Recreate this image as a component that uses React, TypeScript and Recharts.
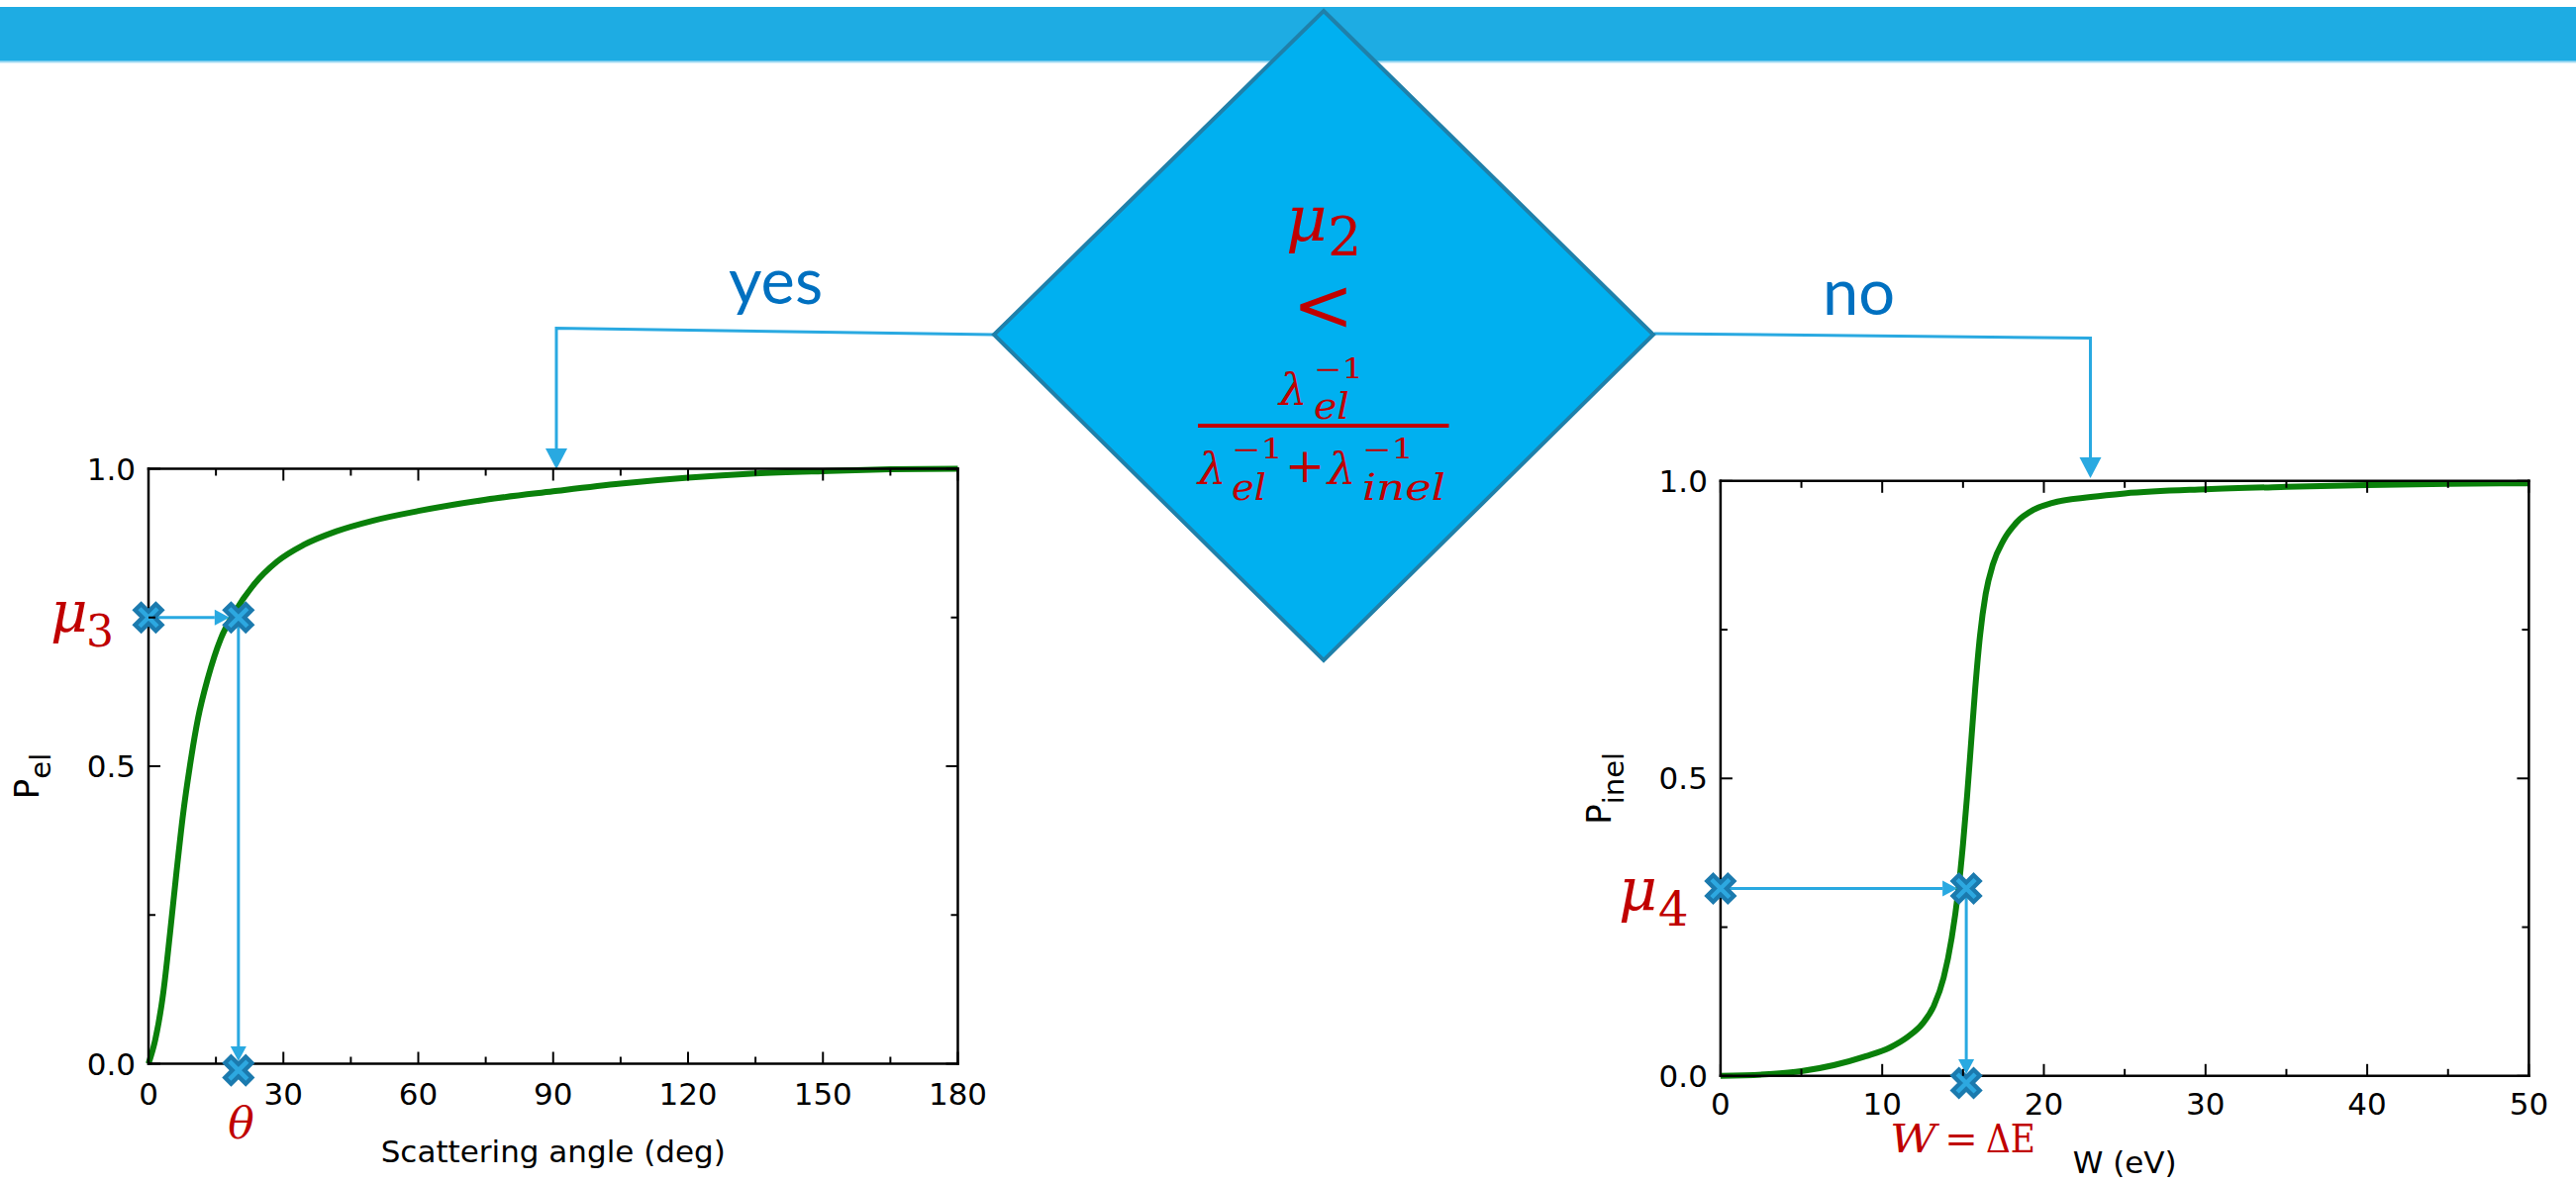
import React from 'react';
import { LineChart, Line, XAxis, YAxis, ReferenceLine, ReferenceDot, Label } from 'recharts';

// ---------------- data ----------------
const elAngleDeg = [0, 1.5, 3.3, 4.8, 6.2, 7.7, 9.2, 11, 13.2, 16.1, 19.1, 23.5, 28.6, 34.5, 41.8, 50, 60, 75, 90, 105, 120, 135, 150, 165, 180];
const elProbability = [0, 0.04, 0.12, 0.22, 0.32, 0.42, 0.5, 0.58, 0.648, 0.715, 0.758, 0.806, 0.844, 0.872, 0.895, 0.913, 0.929, 0.948, 0.962, 0.975, 0.985, 0.992, 0.996, 0.999, 1.0];

const inelLossEV = [0, 3, 5, 7, 9, 10.5, 11.6, 12.5, 13.2, 13.8, 14.3, 14.7, 15, 15.25, 15.5, 15.75, 16.05, 16.4, 16.85, 17.5, 18.3, 19.4, 20.5, 22.9, 25, 30, 35, 40, 45, 50];
const inelProbability = [0, 0.003, 0.008, 0.018, 0.033, 0.048, 0.066, 0.088, 0.118, 0.165, 0.232, 0.31, 0.39, 0.47, 0.56, 0.65, 0.74, 0.81, 0.86, 0.9, 0.93, 0.952, 0.963, 0.973, 0.979, 0.986, 0.99, 0.993, 0.995, 0.996];

const elXTicks = [0, 15, 30, 45, 60, 75, 90, 105, 120, 135, 150, 165, 180];
const elXMajor = [0, 30, 60, 90, 120, 150, 180];
const inelXTicks = [0, 5, 10, 15, 20, 25, 30, 35, 40, 45, 50];
const inelXMajor = [0, 10, 20, 30, 40, 50];
const yTicks = [0, 0.25, 0.5, 0.75, 1];
const yMajor = [0, 0.5, 1];

// sampled points (markers)
const mu3 = 0.75;
const thetaSample = 20;
const elBelowAxis = -0.011;
const mu4 = 0.315;
const wSample = 15.2;
const inelBelowAxis = -0.012;

const elData = elAngleDeg.map((t, i) => ({ x: t, p: elProbability[i] }));
const inelData = inelLossEV.map((w, i) => ({ x: w, p: inelProbability[i] }));

// ---------------- styles ----------------
const AXIS_FONT = '"DejaVu Sans", sans-serif';
const MATH_FONT = '"DejaVu Serif", serif';
const RED = '#C00000';
const ARROW = '#29A9E1';
const GREEN = '#0A800A';
const axisLineStyle = { stroke: '#000', strokeWidth: 2.5, strokeLinecap: 'square' };
const TICK_FS = 31;

const bottomTick = (majors: number[], labelDy: number) => (props: any) => {
  const { x, y, payload } = props;
  const v = payload.value;
  const isMajor = majors.includes(v);
  const len = isMajor ? 12 : 7;
  return (
    <g>
      <line x1={x} y1={y} x2={x} y2={y - len} stroke="#000" strokeWidth={2} />
      {isMajor && (
        <text x={x} y={y + labelDy} textAnchor="middle" fontFamily={AXIS_FONT} fontSize={TICK_FS} fill="#000">
          {String(v)}
        </text>
      )}
    </g>
  );
};

const topTick = (majors: number[]) => (props: any) => {
  const { x, y, payload } = props;
  const len = majors.includes(payload.value) ? 12 : 7;
  return <line x1={x} y1={y} x2={x} y2={y + len} stroke="#000" strokeWidth={2} />;
};

const leftTick = (props: any) => {
  const { x, y, payload } = props;
  const v = payload.value;
  const isMajor = yMajor.includes(v);
  const len = isMajor ? 12 : 7;
  return (
    <g>
      <line x1={x} y1={y} x2={x + len} y2={y} stroke="#000" strokeWidth={2} />
      {isMajor && (
        <text x={x - 13} y={y + 11} textAnchor="end" fontFamily={AXIS_FONT} fontSize={TICK_FS} fill="#000">
          {v.toFixed(1)}
        </text>
      )}
    </g>
  );
};

const rightTick = (props: any) => {
  const { x, y, payload } = props;
  const len = yMajor.includes(payload.value) ? 12 : 7;
  return <line x1={x} y1={y} x2={x - len} y2={y} stroke="#000" strokeWidth={2} />;
};

const yTitle = (sub: string, subDy: number, fallback: any) => (props: any) => {
  const vb = props && props.viewBox && typeof props.viewBox.x === 'number' ? props.viewBox : fallback;
  const X = vb.x - 51;
  const Y = vb.y + vb.height / 2 + 10;
  return (
    <text transform={`rotate(-90 ${X} ${Y})`} x={X} y={Y} textAnchor="middle" fontFamily={AXIS_FONT} fill="#000">
      <tspan fontSize={34}>P</tspan>
      <tspan fontSize={29} dy={subDy}>{sub}</tspan>
    </text>
  );
};

const XMark = (props: any) => {
  const { cx, cy } = props;
  if (cx == null || cy == null) return null;
  const a = 12;
  const b = 9;
  return (
    <g>
      <path d={`M${cx - a},${cy - a}L${cx + a},${cy + a}M${cx - a},${cy + a}L${cx + a},${cy - a}`} stroke="#1B7AAE" strokeWidth={13} fill="none" />
      <path d={`M${cx - b},${cy - b}L${cx + b},${cy + b}M${cx - b},${cy + b}L${cx + b},${cy - b}`} stroke="#2DA8E0" strokeWidth={4.5} fill="none" />
    </g>
  );
};

const makeArrow = (gap: number) => (props: any) => {
  const { x1, y1, x2, y2 } = props;
  if ([x1, y1, x2, y2].some((v) => typeof v !== 'number' || isNaN(v))) return null;
  const dx = x2 - x1;
  const dy = y2 - y1;
  const len = Math.hypot(dx, dy) || 1;
  const ux = dx / len;
  const uy = dy / len;
  const tipX = x2 - ux * gap;
  const tipY = y2 - uy * gap;
  const headLen = 15;
  const headW = 8;
  const bx = tipX - ux * headLen;
  const by = tipY - uy * headLen;
  const px = -uy * headW;
  const py = ux * headW;
  return (
    <g>
      <line x1={x1} y1={y1} x2={bx} y2={by} stroke={ARROW} strokeWidth={3} />
      <polygon points={`${tipX},${tipY} ${bx + px},${by + py} ${bx - px},${by - py}`} fill={ARROW} />
    </g>
  );
};

function Panel(p: any) {
  const { data, xDomain, xTicks, xMajor, margin, width, height, xTitle, titleOffset, ySub, ySubDy, labelDy, mu, xs, below } = p;
  const fallback = { x: margin.left, y: margin.top + 1, width: 60, height: height - margin.top - 1 - margin.bottom - 60 };
  return (
    <LineChart width={width} height={height} data={data} margin={margin}>
      <XAxis xAxisId="x" dataKey="x" type="number" domain={xDomain} ticks={xTicks} interval={0} tickSize={0} tickMargin={0}
        tickLine={false} axisLine={axisLineStyle} height={60} tick={bottomTick(xMajor, labelDy)}>
        <Label value={xTitle} position="bottom" offset={titleOffset} fill="#000" fontSize={31} fontFamily={AXIS_FONT} />
      </XAxis>
      <XAxis xAxisId="t" orientation="top" dataKey="x" type="number" domain={xDomain} allowDataOverflow ticks={xTicks} interval={0}
        tickSize={0} tickMargin={0} tickLine={false} axisLine={axisLineStyle} height={1} tick={topTick(xMajor)} />
      <YAxis yAxisId="y" dataKey="p" type="number" domain={[0, 1]} ticks={yTicks} interval={0} tickSize={0} tickMargin={0}
        tickLine={false} axisLine={axisLineStyle} width={60} tick={leftTick}>
        <Label content={yTitle(ySub, ySubDy, fallback)} />
      </YAxis>
      <YAxis yAxisId="r" orientation="right" dataKey="p" type="number" domain={[0, 1]} allowDataOverflow ticks={yTicks} interval={0}
        tickSize={0} tickMargin={0} tickLine={false} axisLine={axisLineStyle} width={1} tick={rightTick} />
      <Line xAxisId="x" yAxisId="y" type="monotone" dataKey="p" stroke={GREEN} strokeWidth={6} dot={false} activeDot={false} isAnimationActive={false} />
      <ReferenceLine xAxisId="x" yAxisId="y" segment={[{ x: xDomain[0], y: mu }, { x: xs, y: mu }]} ifOverflow="visible" shape={makeArrow(9)} />
      <ReferenceLine xAxisId="x" yAxisId="y" segment={[{ x: xs, y: mu }, { x: xs, y: below }]} ifOverflow="visible" shape={makeArrow(9)} />
      <ReferenceDot xAxisId="x" yAxisId="y" x={xDomain[0]} y={mu} ifOverflow="visible" shape={XMark} />
      <ReferenceDot xAxisId="x" yAxisId="y" x={xs} y={mu} ifOverflow="visible" shape={XMark} />
      <ReferenceDot xAxisId="x" yAxisId="y" x={xs} y={below} ifOverflow="visible" shape={XMark} />
    </LineChart>
  );
}

const T = (props: any) => <text fill={RED} fontFamily={MATH_FONT} {...props} />;

export default function App() {
  return (
    <div style={{ position: 'absolute', left: 0, top: 0, width: 2602, height: 1196, background: '#fff', overflow: 'hidden' }}>
      <svg width={2602} height={1196} style={{ position: 'absolute', left: 0, top: 0 }}>
        <rect x={0} y={7} width={2602} height={55} fill="#1EACE3" />
        <rect x={0} y={61.5} width={2602} height={2} fill="#A6DCF3" />
        {/* connectors */}
        <polyline points="1004,338 562,331.5 562,456" stroke={ARROW} strokeWidth={3} fill="none" />
        <polygon points="551,453 573,453 562,474" fill={ARROW} />
        <polyline points="1671,337 2111.5,341.5 2111.5,465" stroke={ARROW} strokeWidth={3} fill="none" />
        <polygon points="2100.5,462 2122.5,462 2111.5,483" fill={ARROW} />
        {/* decision diamond */}
        <polygon points="1337,11 1670,338 1337,667 1004,338" fill="#00B0F0" stroke="#1F80AA" strokeWidth={4} />
        <text x={736} y={307} fontFamily="Lato, sans-serif" fontSize={65} fill="#0070C0">yes</text>
        <text x={1841} y={318} fontFamily="Lato, sans-serif" fontSize={65} fill="#0070C0">no</text>
        {/* formula */}
        <T x={1299} y={243} fontSize={64} fontStyle="italic">μ</T>
        <T x={1341} y={258} fontSize={54}>2</T>
        <T x={1336.5} y={334} fontSize={74} textAnchor="middle">&lt;</T>
        <T x={1292} y={408.5} fontSize={45} fontStyle="italic">λ</T>
        <T x={1327} y={382} fontSize={27} textLength={50} lengthAdjust="spacingAndGlyphs">−1</T>
        <T x={1327} y={423} fontSize={37} fontStyle="italic" textLength={36} lengthAdjust="spacingAndGlyphs">el</T>
        <rect x={1210} y={428} width={253.5} height={4} fill={RED} />
        <T x={1210} y={489} fontSize={45} fontStyle="italic">λ</T>
        <T x={1244} y={463} fontSize={27} textLength={52} lengthAdjust="spacingAndGlyphs">−1</T>
        <T x={1244} y={505} fontSize={37} fontStyle="italic" textLength={35} lengthAdjust="spacingAndGlyphs">el</T>
        <T x={1318} y={487} fontSize={48} textAnchor="middle">+</T>
        <T x={1341} y={489} fontSize={45} fontStyle="italic">λ</T>
        <T x={1376} y={463} fontSize={27} textLength={52} lengthAdjust="spacingAndGlyphs">−1</T>
        <T x={1376} y={505} fontSize={37} fontStyle="italic" textLength={84} lengthAdjust="spacingAndGlyphs">inel</T>
        {/* chart annotations */}
        <T x={51} y={638} fontSize={58} fontStyle="italic">μ</T>
        <T x={87} y={653} fontSize={44}>3</T>
        <T x={243.5} y={1150} fontSize={44} fontStyle="italic" textAnchor="middle">θ</T>
        <T x={1635} y={920} fontSize={60} fontStyle="italic">μ</T>
        <T x={1675} y={935} fontSize={48}>4</T>
        <T x={1909} y={1164} fontSize={40} fontStyle="italic" textLength={47} lengthAdjust="spacingAndGlyphs">W</T>
        <T x={1981} y={1164} fontSize={40} textAnchor="middle">=</T>
        <T x={2006} y={1164} fontSize={40} textLength={50} lengthAdjust="spacingAndGlyphs">ΔE</T>
      </svg>

      <div style={{ position: 'absolute', left: 0, top: 400 }}>
        <Panel
          data={elData}
          xDomain={[0, 180]}
          xTicks={elXTicks}
          xMajor={elXMajor}
          width={1000}
          height={796}
          margin={{ top: 72.5, right: 31.5, bottom: 61.5, left: 90 }}
          xTitle="Scattering angle (deg)"
          titleOffset={17}
          ySub="el"
          ySubDy={12}
          labelDy={41}
          mu={mu3}
          xs={thetaSample}
          below={elBelowAxis}
        />
      </div>

      <div style={{ position: 'absolute', left: 1540, top: 400 }}>
        <Panel
          data={inelData}
          xDomain={[0, 50]}
          xTicks={inelXTicks}
          xMajor={inelXMajor}
          width={1062}
          height={796}
          margin={{ top: 84.8, right: 46.6, bottom: 49.2, left: 137.9 }}
          xTitle="W (eV)"
          titleOffset={16}
          ySub="inel"
          ySubDy={13}
          labelDy={39}
          mu={mu4}
          xs={wSample}
          below={inelBelowAxis}
        />
      </div>
    </div>
  );
}
